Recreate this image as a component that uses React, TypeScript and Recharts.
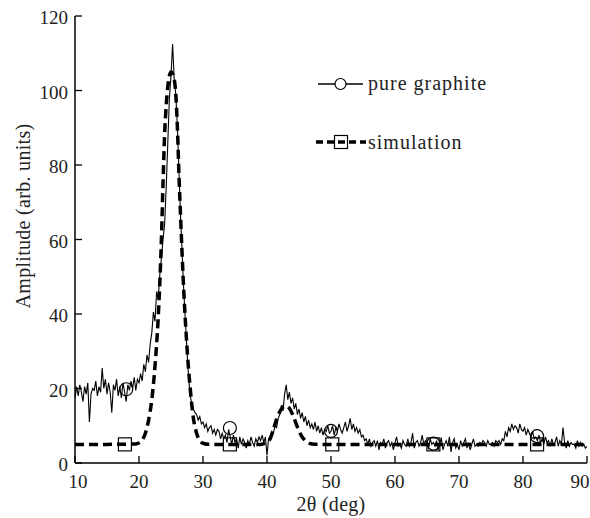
import React from 'react';
import { ComposedChart, Line, Scatter, XAxis, YAxis } from 'recharts';

const xTicks = [10, 20, 30, 40, 50, 60, 70, 80, 90];
const yTicks = [0, 20, 40, 60, 80, 100, 120];

// pure graphite: sampled every 0.25 deg starting at 10 deg
const graphiteStart = 10;
const graphiteStep = 0.25;
const graphiteValues = [
  17.5, 20.5, 18.0, 21.0, // 10
  19.0, 16.5, 20.5, 18.5, // 11
  21.5, 11.0, 18.5, 20.0, // 12
  19.5, 22.0, 18.0, 20.5, // 13
  19.0, 25.5, 20.0, 22.5, // 14
  18.5, 21.5, 19.0, 13.5, // 15
  21.0, 19.5, 22.5, 18.0, // 16
  20.5, 17.5, 21.5, 19.0, // 17
  16.5, 21.0, 19.5, 22.0, // 18
  20.0, 23.0, 19.5, 22.5, // 19
  21.5, 24.0, 22.0, 26.5, // 20
  24.5, 29.0, 27.0, 32.0, // 21
  35.0, 40.5, 38.0, 46.0, // 22
  44.0, 50.5, 55.0, 60.0, // 23
  64.0, 74.0, 86.0, 98.0, // 24
  104.0, 112.5, 103.0, 99.0, // 25
  90.0, 78.0, 66.0, 56.0, // 26
  46.0, 38.0, 30.0, 23.0, // 27
  18.0, 16.0, 14.5, 13.5, // 28
  13.0, 11.5, 12.5, 10.5, // 29
  11.0, 9.5, 10.5, 8.5, // 30
  9.5, 10.0, 8.0, 9.0, // 31
  7.5, 9.0, 8.5, 6.5, // 32
  8.0, 6.5, 7.5, 5.5, // 33
  9.0, 7.0, 5.0, 7.5, // 34
  5.5, 6.5, 4.0, 7.0, // 35
  5.0, 6.5, 5.5, 4.0, // 36
  6.0, 5.0, 7.0, 5.5, // 37
  4.5, 6.5, 5.5, 7.0, // 38
  6.0, 7.5, 5.5, 7.0, // 39
  2.0, 6.5, 7.0, 8.5, // 40
  8.0, 10.0, 9.5, 12.0, // 41
  13.0, 15.5, 14.0, 18.5, // 42
  21.0, 17.0, 19.0, 16.0, // 43
  17.5, 14.5, 16.0, 13.0, // 44
  14.5, 12.0, 13.5, 11.0, // 45
  12.5, 10.0, 11.5, 9.5, // 46
  10.5, 9.0, 11.0, 8.5, // 47
  10.0, 8.0, 9.5, 7.5, // 48
  9.0, 8.5, 10.0, 8.0, // 49
  8.5, 10.0, 7.5, 9.5, // 50
  8.5, 10.5, 9.0, 8.0, // 51
  9.5, 11.0, 8.5, 10.0, // 52
  12.0, 9.0, 10.5, 8.5, // 53
  9.5, 8.0, 9.0, 7.0, // 54
  7.5, 6.0, 6.5, 5.0, // 55
  6.5, 4.5, 5.5, 6.0, // 56
  4.5, 6.0, 3.5, 5.5, // 57
  5.0, 6.5, 4.0, 5.5, // 58
  6.0, 4.5, 5.5, 3.5, // 59
  5.5, 7.0, 4.5, 5.0, // 60
  4.0, 6.0, 5.0, 4.5, // 61
  6.5, 4.5, 5.5, 8.0, // 62
  4.0, 5.5, 6.0, 4.5, // 63
  5.5, 7.5, 5.0, 6.0, // 64
  5.0, 4.0, 6.5, 5.0, // 65
  5.5, 4.5, 6.0, 3.5, // 66
  5.5, 6.5, 3.5, 5.0, // 67
  6.0, 4.5, 7.0, 3.0, // 68
  5.5, 6.5, 4.0, 5.0, // 69
  3.5, 6.0, 4.5, 5.5, // 70
  6.5, 4.0, 5.5, 3.5, // 71
  5.0, 6.5, 4.5, 5.0, // 72
  4.5, 5.5, 5.0, 6.0, // 73
  5.5, 4.5, 6.0, 5.0, // 74
  5.0, 5.5, 4.5, 6.0, // 75
  5.5, 6.0, 5.0, 6.5, // 76
  6.0, 8.5, 7.0, 9.5, // 77
  8.5, 10.5, 9.0, 10.0, // 78
  9.5, 8.0, 10.5, 9.0, // 79
  8.5, 9.5, 7.5, 9.0, // 80
  8.0, 7.0, 8.5, 6.5, // 81
  7.0, 6.0, 7.5, 5.5, // 82
  6.5, 5.0, 7.0, 5.5, // 83
  6.0, 4.5, 6.5, 5.0, // 84
  5.5, 7.0, 4.5, 6.0, // 85
  5.0, 9.5, 5.5, 4.0, // 86
  6.0, 4.5, 5.5, 5.0, // 87
  5.0, 4.0, 6.0, 4.5, // 88
  5.5, 4.5, 5.0, 4.0, // 89
  4.5, // 90
];

const simX = [10, 15, 19.5, 20, 20.5, 21, 21.5, 22, 22.5, 23, 23.5, 23.75, 24, 24.25, 24.5, 25, 25.5, 25.75, 26, 26.25, 26.5, 27, 27.5, 28, 28.5, 29, 29.5, 30, 31, 35, 39, 39.5, 40, 40.5, 41, 41.5, 42, 42.5, 43, 43.5, 44, 44.5, 45, 45.5, 46, 46.5, 47, 48, 60, 75, 90];
const simY = [5, 5, 5.1, 5.4, 6.2, 8, 11.5, 17, 26, 39, 60, 75, 88, 96, 101, 105, 103, 99, 90, 77, 66, 46, 31, 20, 12, 8, 6, 5.3, 5, 5, 5, 5.2, 5.6, 6.5, 9, 11.8, 13.8, 15, 15.3, 14.7, 13, 10.8, 8.6, 7, 6, 5.4, 5.1, 5, 5, 5, 5];

const graphiteMarkX = [18, 34.2, 50, 66, 82.2];
const graphiteMarkY = [19.8, 9.4, 8.6, 5.2, 7.2];
const simMarkX = [17.8, 34.2, 50.2, 66, 82.2];
const simMarkY = [5, 5, 5, 5, 5];

const graphiteData = graphiteValues.map((y, i) => ({ x: graphiteStart + i * graphiteStep, y }));
const simData = simX.map((x, i) => ({ x, y: simY[i] }));
const graphiteMarks = graphiteMarkX.map((x, i) => ({ x, y: graphiteMarkY[i] }));
const simMarks = simMarkX.map((x, i) => ({ x, y: simMarkY[i] }));

const FONT = '"Liberation Serif", "Times New Roman", serif';
const TICK = 7;

const BottomTick = (p: any) => {
  const v = p.payload.value;
  const shift = v === 10 ? 3 : v === 90 ? -7 : 0;
  return (
    <g>
      <line x1={p.x} y1={p.y} x2={p.x} y2={p.y - TICK} stroke="#000" strokeWidth={1.3} />
      <text x={p.x + shift} y={p.y + 25} textAnchor="middle" fontFamily={FONT} fontSize={19} fill="#222">
        {v}
      </text>
    </g>
  );
};
const LeftTick = (p: any) => (
  <g>
    <line x1={p.x} y1={p.y} x2={p.x + TICK} y2={p.y} stroke="#000" strokeWidth={1.3} />
    <text x={p.x - 7} y={p.y + 8} textAnchor="end" fontFamily={FONT} fontSize={19} fill="#222">
      {p.payload.value}
    </text>
  </g>
);
const TopTick = (p: any) => (
  <line x1={p.x} y1={p.y} x2={p.x} y2={p.y + TICK} stroke="#000" strokeWidth={1.3} />
);
const RightTick = (p: any) => (
  <line x1={p.x} y1={p.y} x2={p.x - TICK} y2={p.y} stroke="#000" strokeWidth={1.3} />
);

const CircleMark = (p: any) => (
  <circle cx={p.cx} cy={p.cy} r={6.5} fill="none" stroke="#000" strokeWidth={1.2} />
);
const SquareMark = (p: any) => (
  <rect x={p.cx - 6.5} y={p.cy - 6.5} width={13} height={13} fill="none" stroke="#000" strokeWidth={1.2} />
);

const YLabel = () => (
  <text x={30} y={216} transform="rotate(-90, 30, 216)" textAnchor="middle" fontFamily={FONT} fontSize={20} fill="#222" letterSpacing={0.3}>
    Amplitude (arb. units)
  </text>
);
const XLabel = () => (
  <text x={331} y={511} textAnchor="middle" fontFamily={FONT} fontSize={20} fill="#222" letterSpacing={0.3}>
    2θ (deg)
  </text>
);

export default function App() {
  return (
    <div style={{ position: 'absolute', left: 0, top: 0, width: 590, height: 518, background: '#fff' }}>
      <ComposedChart width={590} height={518} margin={{ top: 16, right: 3, bottom: 0, left: 0 }}>
        <XAxis
          dataKey="x"
          type="number"
          domain={[10, 90]}
          ticks={xTicks}
          allowDataOverflow
          height={55}
          tickSize={0}
          tickMargin={0}
          tick={<BottomTick />}
          axisLine={{ stroke: '#000', strokeWidth: 1.5 }}
          label={<XLabel />}
          interval={0}
        />
        <XAxis
          xAxisId="top"
          orientation="top"
          dataKey="x"
          type="number"
          domain={[10, 90]}
          ticks={xTicks}
          height={0}
          tickSize={0}
          tickMargin={0}
          tick={<TopTick />}
          axisLine={{ stroke: '#000', strokeWidth: 1.5 }}
          interval={0}
        />
        <YAxis
          type="number"
          domain={[0, 120]}
          ticks={yTicks}
          allowDataOverflow
          width={75}
          tickSize={0}
          tickMargin={0}
          tick={<LeftTick />}
          axisLine={{ stroke: '#000', strokeWidth: 1.5 }}
          label={<YLabel />}
          interval={0}
        />
        <YAxis
          yAxisId="right"
          orientation="right"
          type="number"
          domain={[0, 120]}
          ticks={yTicks}
          width={0}
          tickSize={0}
          tickMargin={0}
          tick={<RightTick />}
          axisLine={{ stroke: '#000', strokeWidth: 1.5 }}
          interval={0}
        />
        <Line
          data={graphiteData}
          dataKey="y"
          type="linear"
          stroke="#000"
          strokeWidth={1.1}
          dot={false}
          activeDot={false}
          isAnimationActive={false}
        />
        <Line
          data={simData}
          dataKey="y"
          type="monotone"
          stroke="#000"
          strokeWidth={3.5}
          strokeDasharray="9 5"
          dot={false}
          activeDot={false}
          isAnimationActive={false}
        />
        <Scatter data={graphiteMarks} dataKey="y" shape={<CircleMark />} isAnimationActive={false} />
        <Scatter data={simMarks} dataKey="y" shape={<SquareMark />} isAnimationActive={false} />
      </ComposedChart>
      <svg width={590} height={518} style={{ position: 'absolute', left: 0, top: 0, pointerEvents: 'none' }}>
        <line x1={318} y1={84} x2={363} y2={84} stroke="#000" strokeWidth={1.4} />
        <circle cx={340.5} cy={84} r={5.5} fill="#fff" stroke="#000" strokeWidth={1.2} />
        <text x={368} y={90} fontFamily={FONT} fontSize={20} fill="#222" letterSpacing={1}>pure graphite</text>
        <line x1={316} y1={142} x2={366} y2={142} stroke="#000" strokeWidth={3.5} strokeDasharray="7 4" />
        <rect x={334.5} y={135.5} width={13} height={13} fill="none" stroke="#000" strokeWidth={1.2} />
        <text x={368} y={149} fontFamily={FONT} fontSize={20} fill="#222" letterSpacing={1}>simulation</text>
      </svg>
    </div>
  );
}
